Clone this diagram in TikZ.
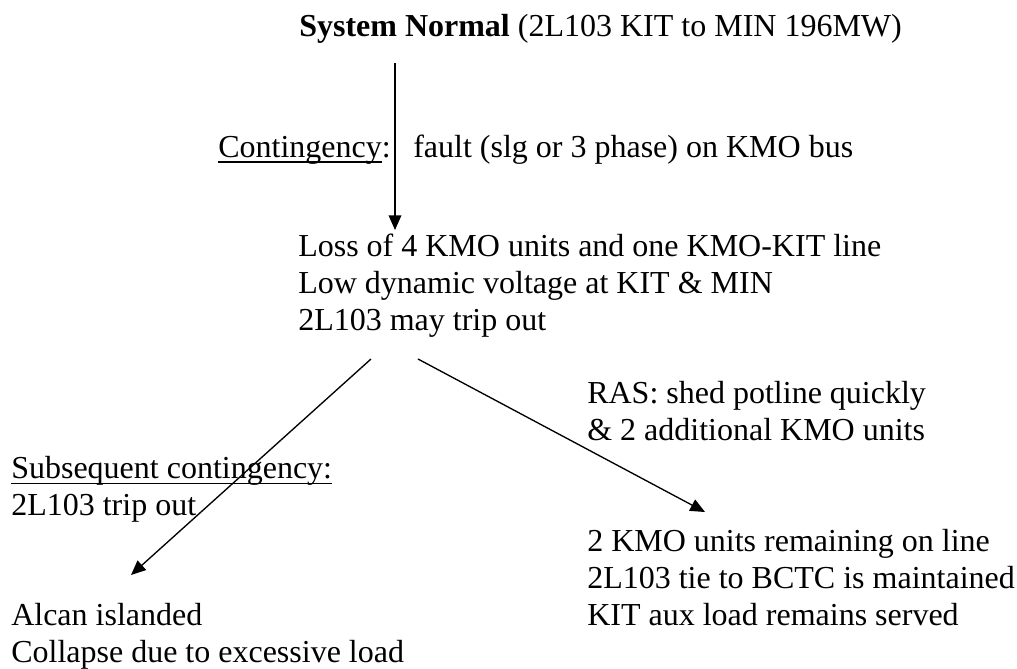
\documentclass[tikz,border=0pt]{standalone}
\usepackage{fontspec}
\setmainfont{Liberation Serif}
\usetikzlibrary{arrows.meta}
\newcommand{\wul}[1]{\setbox0\hbox{#1}\rlap{\rule[-4.2pt]{\wd0}{0.9pt}}\box0}
\begin{document}
\begin{tikzpicture}[x=0.75pt,y=-0.75pt,
  txt/.style={anchor=base west, inner sep=0pt, align=left, font=\fontsize{24}{27.4}\selectfont},
  arr/.style={line width=1pt, -{Triangle[length=11pt,width=9.5pt]}}]
\useasboundingbox (0,0) rectangle (1017,668);
\node[txt] (normal) at (299,36) {\textbf{System Normal} (2L103 KIT to MIN 196MW)};
\node[txt] (cont) at (218,157) {\wul{Contingency}:};
\node[txt] (fault) at (413,157) {fault (slg or 3 phase) on KMO bus};
\node[txt] (loss) at (298,330) {Loss of 4 KMO units and one KMO-KIT line\\Low dynamic voltage at KIT \& MIN\\2L103 may trip out};
\node[txt] (ras) at (587,440) {RAS: shed potline quickly\\\& 2 additional KMO units};
\node[txt] (subs) at (11,515) {\wul{Subsequent contingency:}\\2L103 trip out};
\node[txt] (remain) at (587,625) {2 KMO units remaining on line\\2L103 tie to BCTC is maintained\\KIT aux load remains served};
\node[txt] (alcan) at (11,662) {Alcan islanded\\Collapse due to excessive load};
\coordinate (a1s) at (395,63);
\coordinate (a1e) at (395,230);
\coordinate (a2s) at (371,359);
\coordinate (a2e) at (131,575);
\coordinate (a3s) at (418,359);
\coordinate (a3e) at (705,512);
\draw[arr] (a1s) -- (a1e);
\draw[arr] (a2s) -- (a2e);
\draw[arr] (a3s) -- (a3e);
\end{tikzpicture}
\end{document}
